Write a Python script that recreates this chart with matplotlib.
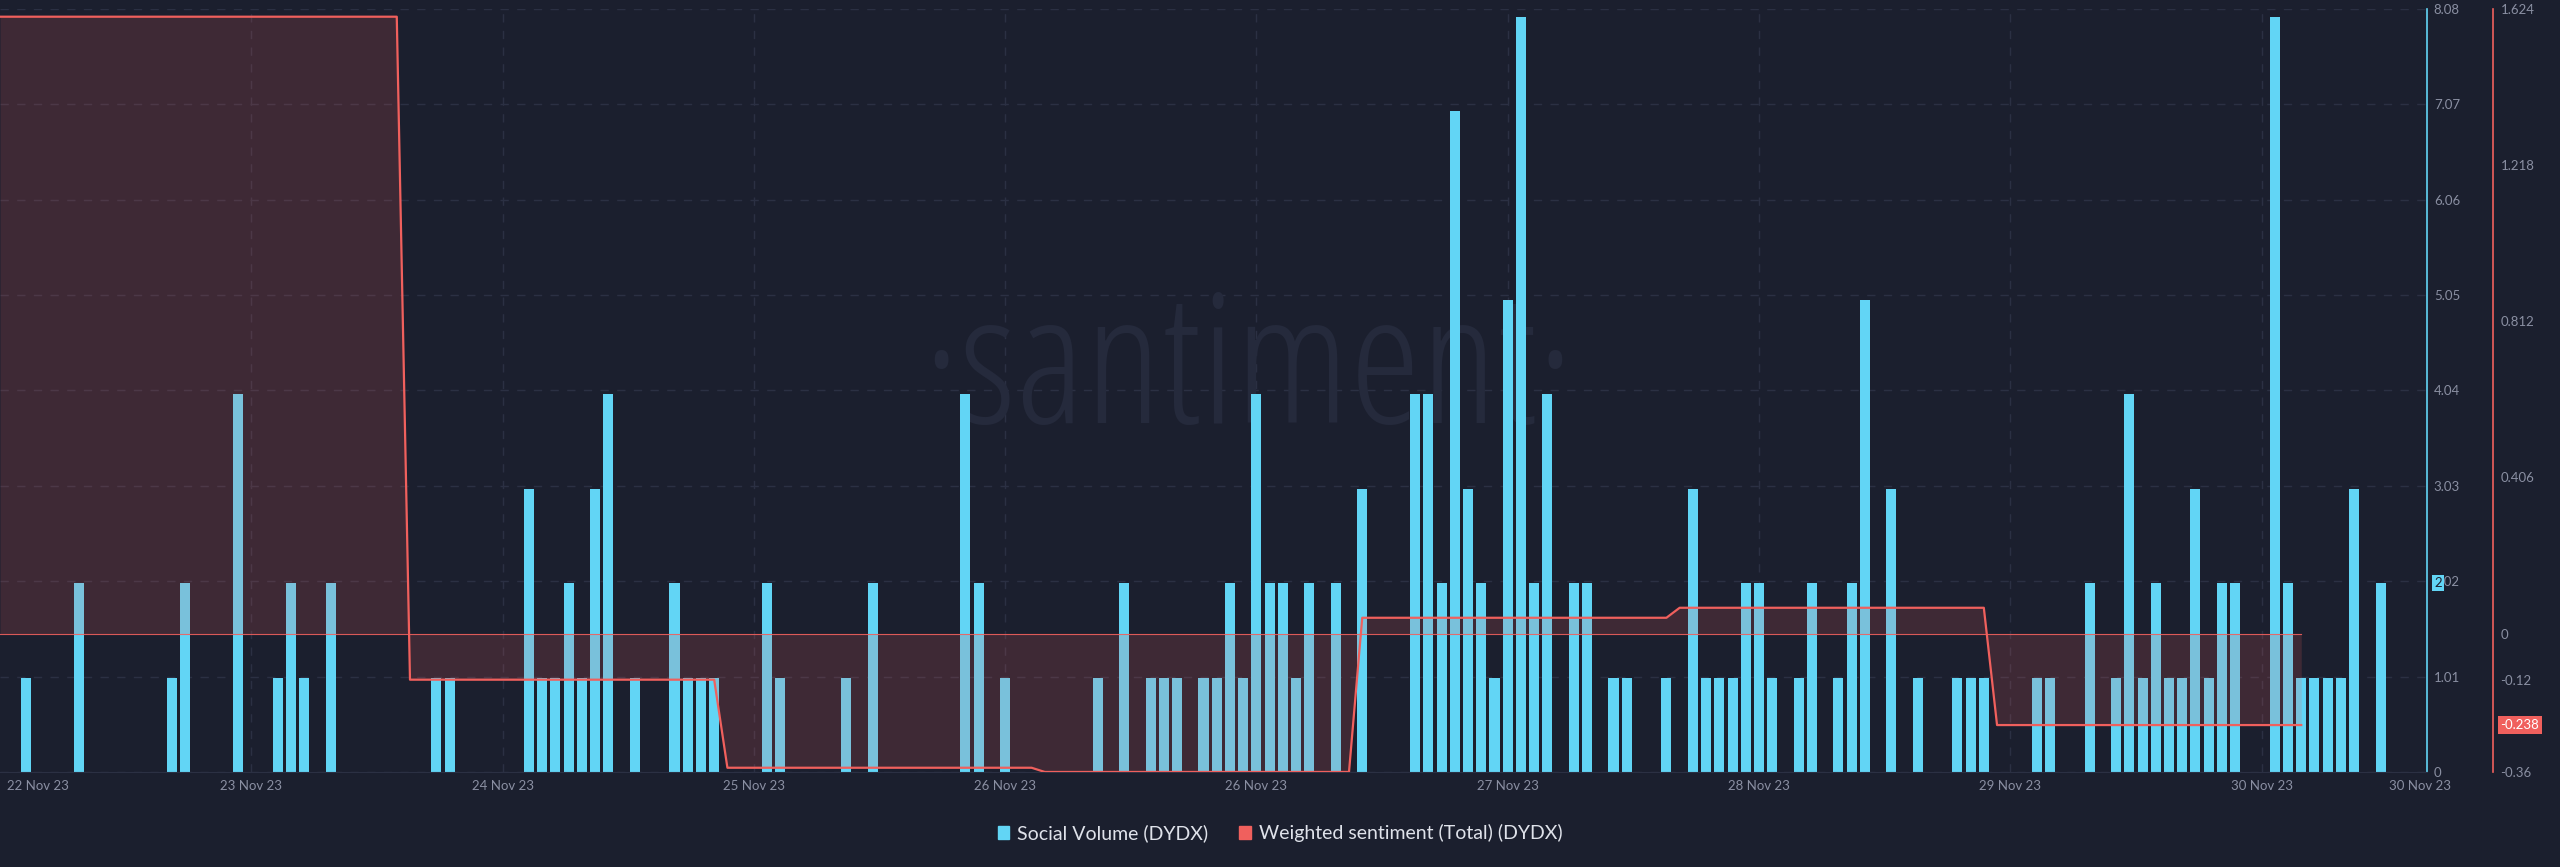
import numpy as np
import pandas as pd
import matplotlib
matplotlib.use("Agg")
import matplotlib.pyplot as plt
import matplotlib.transforms as mtransforms
from matplotlib.patches import Patch

plt.rcParams['font.family'] = ['Lato', 'DejaVu Sans']

BG = "#1b1f2e"
CYAN = "#62d5f5"
RED = "#f0605d"
GRID = "#2b3043"
TXT = "#8a8fa2"

# hourly social volume, first bar is 22 Nov 2023 23:00
first_hour = pd.Timestamp("2023-11-22 23:00")
social_volume = [
    1, 0, 0, 0, 2, 0, 0, 0, 0, 0, 0, 1, 2, 0, 0, 0, 4, 0, 0, 1, 2, 1, 0, 2,
    0, 0, 0, 0, 0, 0, 0, 1, 1, 0, 0, 0, 0, 0, 3, 1, 1, 2, 1, 3, 4, 0, 1, 0,
    0, 2, 1, 1, 1, 0, 0, 0, 2, 1, 0, 0, 0, 0, 1, 0, 2, 0, 0, 0, 0, 0, 0, 4,
    2, 0, 1, 0, 0, 0, 0, 0, 0, 1, 0, 2, 0, 1, 1, 1, 0, 1, 1, 2, 1, 4, 2, 2,
    1, 2, 0, 2, 0, 3, 0, 0, 0, 4, 4, 2, 7, 3, 2, 1, 5, 8, 2, 4, 0, 2, 2, 0,
    1, 1, 0, 0, 1, 0, 3, 1, 1, 1, 2, 2, 1, 0, 1, 2, 0, 1, 2, 5, 0, 3, 0, 1,
    0, 0, 1, 1, 1, 0, 0, 0, 1, 1, 0, 0, 2, 0, 1, 4, 1, 2, 1, 1, 3, 1, 2, 2,
    0, 0, 8, 2, 1, 1, 1, 1, 3, 0, 2,
]

# daily weighted sentiment (each value starts at 04:00 of that day)
sentiment_days = ["2023-11-22", "2023-11-23", "2023-11-24", "2023-11-25",
                  "2023-11-26", "2023-11-27", "2023-11-28", "2023-11-29"]
sentiment_values = [1.604, 1.604, -0.12, -0.349, -0.36, 0.041, 0.067, -0.238]

vol_ticks = [0, 1.01, 2.02, 3.03, 4.04, 5.05, 6.06, 7.07, 8.08]
sent_ticks = [-0.36, -0.12, 0, 0.406, 0.812, 1.218, 1.624]

hours = pd.date_range(first_hour, periods=len(social_volume), freq="h")
sent_hours = pd.date_range("2023-11-22 21:00", "2023-11-30 03:00", freq="h")
day_index = pd.to_datetime(sentiment_days) + pd.Timedelta(hours=4)
sentiment = pd.Series(sentiment_values, index=day_index).reindex(sent_hours, method="ffill")

fig = plt.figure(figsize=(25.6, 8.67), dpi=100, facecolor=BG)
ax = fig.add_axes([0, 0.1096, 0.948, 0.880], facecolor=BG)
ax.set_axisbelow(True)

ax.bar(hours, social_volume, width=0.76 / 24, color=CYAN, zorder=2)
ax.set_ylim(0, 8.08)
ax.set_xlim(first_hour - pd.Timedelta(hours=2), first_hour + pd.Timedelta(hours=181.5))

ax.grid(axis='y', color=GRID, linestyle=(0, (6, 6)), lw=1)
for s in ['left', 'top']:
    ax.spines[s].set_visible(False)
ax.spines['right'].set_color(CYAN)
ax.spines['right'].set_linewidth(1.2)
ax.spines['bottom'].set_color(GRID)

# x labels every 19 hours, like the source chart
tick_times = [first_hour + pd.Timedelta(hours=17 + 19 * k) for k in range(9)]
end_time = first_hour + pd.Timedelta(hours=181)
ax.set_xticks(tick_times + [end_time])
ax.set_xticklabels([t.strftime("%d %b %y") for t in tick_times + [end_time]])
ax.tick_params(axis='x', length=0, pad=6, labelcolor=TXT, labelsize=9.5)
for t in tick_times:
    ax.axvline(t, color=GRID, linestyle=(0, (6, 6)), lw=1, zorder=0.5)

trans_x = mtransforms.blended_transform_factory(ax.transAxes, ax.transAxes)
ax.annotate(first_hour.strftime("%d %b %y"), xy=(0, 0), xycoords=trans_x,
            xytext=(5, -6), textcoords='offset points', ha='left', va='top',
            color=TXT, fontsize=9.5)

# watermark
ax.text(0.5145, 0.457, "·santiment·", transform=ax.transAxes, ha='center', va='baseline',
        fontsize=130, color="#252a3c", family=['Open Sans', 'DejaVu Sans'],
        fontweight='light', fontstretch='condensed', zorder=0.6)

# sentiment on second axis
ax2 = ax.twinx()
ax2.set_ylim(-0.36, 1.624)
ax2.plot(sent_hours, sentiment.values, color=RED, lw=1.6, zorder=3)
ax2.fill_between(sent_hours, sentiment.values, 0, color=RED, alpha=0.17, lw=0)
ax2.plot([sent_hours[0], sent_hours[-1]], [0, 0], color=RED, lw=0.8, alpha=0.9)

ax2.spines['right'].set_position(('outward', 47.5))
for s in ['left', 'top', 'bottom']:
    ax2.spines[s].set_visible(False)
ax2.spines['right'].set_color(RED)
ax2.spines['right'].set_linewidth(1.2)
ax2.set_yticks(sent_ticks)
ax2.set_yticklabels([f"{v:g}" for v in sent_ticks])
ax2.tick_params(axis='y', length=0, pad=5.5, labelcolor=TXT, labelsize=9.5)

# volume ticks on the right (twinx moves them left, so set after it)
ax.yaxis.tick_right()
ax.set_yticks(vol_ticks)
ax.set_yticklabels([f"{v:g}" for v in vol_ticks])
ax.tick_params(axis='y', length=0, pad=5, labelcolor=TXT, labelsize=9.5)

# last value badges
tr1 = mtransforms.blended_transform_factory(ax.transAxes, ax.transData)
ax.annotate(str(social_volume[-1]), xy=(1, social_volume[-1]), xycoords=tr1,
            xytext=(8, 0), textcoords='offset points', ha='center', va='center',
            fontsize=9.5, color=BG, annotation_clip=False, zorder=5,
            bbox=dict(boxstyle='square,pad=0.15', fc=CYAN, ec='none'))
tr2 = mtransforms.blended_transform_factory(ax2.transAxes, ax2.transData)
ax2.annotate(f"{sentiment_values[-1]:.3f}", xy=(1, sentiment_values[-1]), xycoords=tr2,
             xytext=(67, 0), textcoords='offset points', ha='center', va='center',
             fontsize=9.5, color='white', annotation_clip=False,
             bbox=dict(boxstyle='square,pad=0.2', fc=RED, ec='none'))

handles = [Patch(color=CYAN, label="Social Volume (DYDX)"),
           Patch(color=RED, label="Weighted sentiment (Total) (DYDX)")]
fig.legend(handles=handles, loc='center', bbox_to_anchor=(0.5, 0.039), ncol=2,
           frameon=False, fontsize=14, labelcolor="#dfe2ea", handlelength=0.6,
           handleheight=0.6, handletextpad=0.4, columnspacing=1.6)

fig.savefig("out.png", dpi=100, facecolor=BG)
